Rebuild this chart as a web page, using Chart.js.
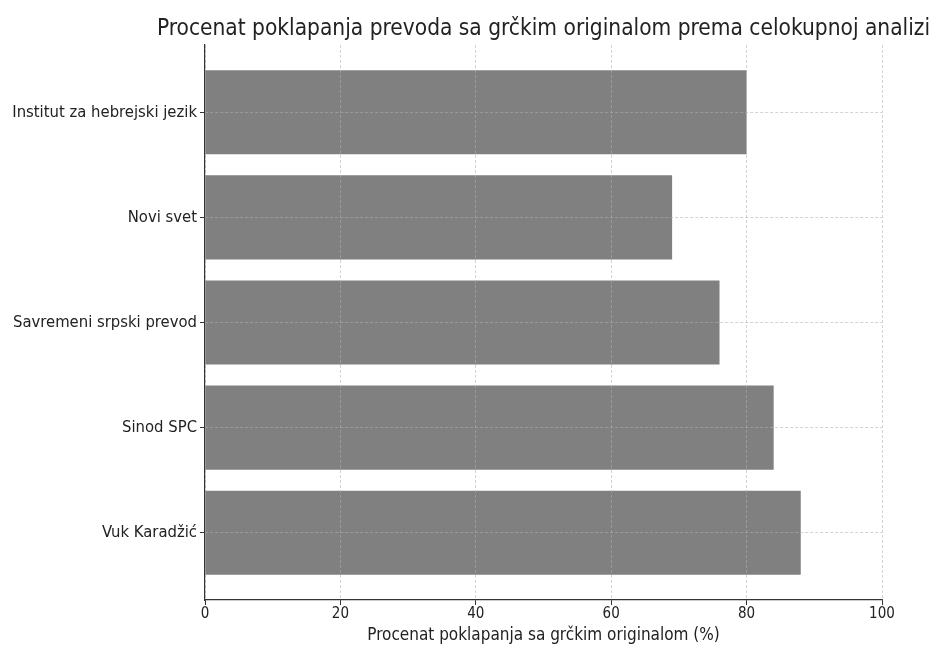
<!DOCTYPE html>
<html>
<head>
<meta charset="utf-8">
<script src="https://cdn.jsdelivr.net/npm/chart.js@4"></script>
<style>
  html, body { margin: 0; padding: 0; background: #fff; }
  #wrap { width: 936px; height: 646px; }
</style>
</head>
<body>
<div id="wrap"><canvas id="matchChart" width="936" height="646"></canvas></div>
<script>
const translations = ['Institut za hebrejski jezik', 'Novi svet', 'Savremeni srpski prevod', 'Sinod SPC', 'Vuk Karadžić'];
const matchPercent = [80, 69, 76, 84, 88];
const xTicks = [0, 20, 40, 60, 80, 100];

const FONT = "'DejaVu Sans Condensed', 'DejaVu Sans', sans-serif";
const chartTitle = 'Procenat poklapanja prevoda sa grčkim originalom prema celokupnoj analizi';

// title centred over the plot area, like matplotlib does
const titlePlugin = {
    id: 'plotTitle',
    afterDraw(chart) {
        const { ctx, chartArea } = chart;
        ctx.save();
        ctx.font = '22.5px ' + FONT;
        ctx.fillStyle = '#222';
        ctx.textAlign = 'center';
        ctx.textBaseline = 'alphabetic';
        ctx.fillText(chartTitle, (chartArea.left + chartArea.right) / 2, chartArea.top - 10);
        ctx.restore();
    }
};

const gridOpts = {
    z: 1,
    offset: false,
    color: 'rgba(176,176,176,0.7)',
    lineWidth: 0.8,
    tickLength: 5,
    tickColor: '#333',
    tickWidth: 1
};
const borderOpts = { z: 1, color: '#333', width: 1.2, dash: [3, 2] };

const ctx = document.getElementById('matchChart').getContext('2d');
const matchChart = new Chart(ctx, {
    type: 'bar',
    data: {
        datasets: [
            {
                label: 'Procenat poklapanja',
                data: matchPercent.map((v, i) => ({ x: v, y: i })),
                backgroundColor: '#808080',
                borderWidth: 0,
                barPercentage: 0.8,
                categoryPercentage: 1
            }
        ]
    },
    options: {
        indexAxis: 'y',
        responsive: false,
        animation: false,
        layout: { padding: { top: 45, right: 54, left: 0, bottom: 0 } },
        plugins: {
            legend: { display: false },
            tooltip: { enabled: false }
        },
        scales: {
            x: {
                type: 'linear',
                min: 0,
                max: 100,
                offset: false,
                afterBuildTicks: axis => { axis.ticks = xTicks.map(v => ({ value: v })); },
                afterFit: axis => { axis.height = 46; },
                grid: gridOpts,
                border: borderOpts,
                ticks: {
                    padding: 0,
                    color: '#222',
                    font: { family: FONT, size: 15 }
                },
                title: {
                    display: true,
                    text: 'Procenat poklapanja sa grčkim originalom (%)',
                    color: '#222',
                    padding: { top: 0, bottom: 0 },
                    font: { family: FONT, size: 17 }
                }
            },
            y: {
                type: 'linear',
                min: -0.64,
                max: 4.64,
                reverse: true,
                offset: false,
                afterBuildTicks: axis => { axis.ticks = translations.map((_, i) => ({ value: i })); },
                afterFit: axis => { axis.width = 205; },
                grid: gridOpts,
                border: borderOpts,
                ticks: {
                    padding: 3,
                    color: '#222',
                    font: { family: FONT, size: 16.5 },
                    callback: v => translations[v] ?? ''
                }
            }
        }
    },
    plugins: [titlePlugin]
});
</script>
</body>
</html>
